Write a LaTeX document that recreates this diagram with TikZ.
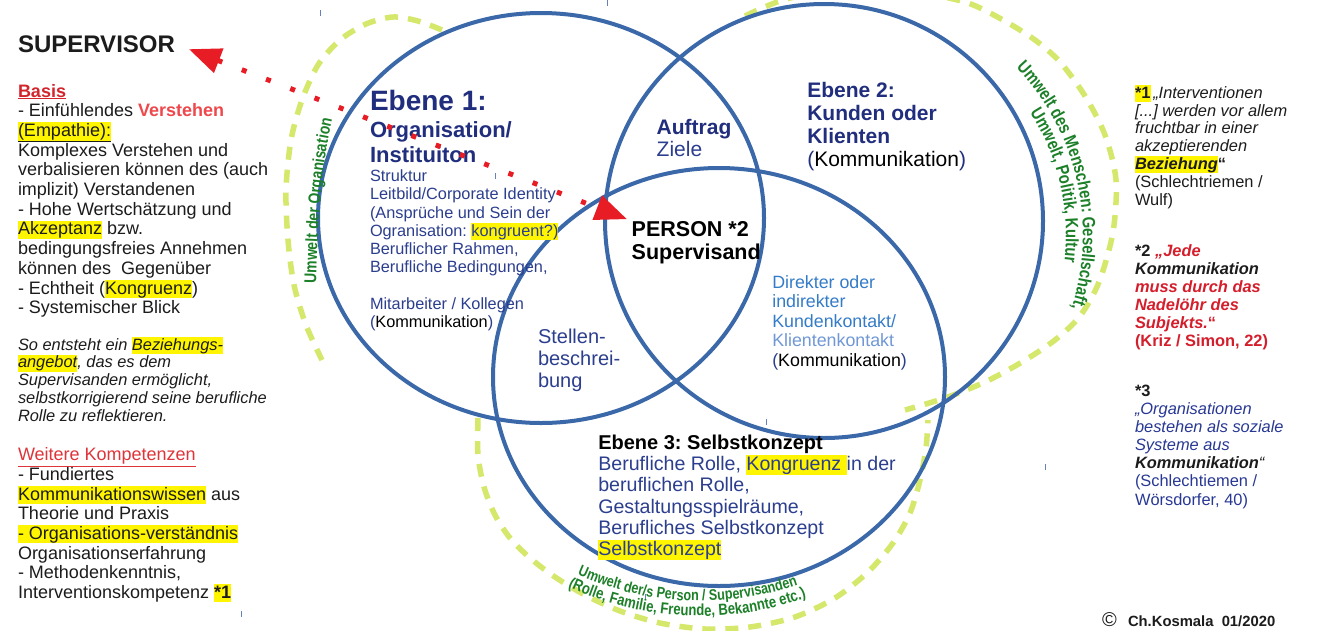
\documentclass[tikz,border=0pt]{standalone}
\usepackage{fontspec}
\setmainfont{Liberation Sans}
\newfontfamily\narrowsans[FakeStretch=0.82]{Liberation Sans}
\frenchspacing
\usetikzlibrary{arrows.meta,decorations.text}

\definecolor{bodytext}{RGB}{28,28,28}
\definecolor{basisred}{RGB}{210,38,44}
\definecolor{verred}{RGB}{238,72,76}
\definecolor{kompred}{RGB}{222,52,58}
\definecolor{navyB}{RGB}{33,46,125}
\definecolor{navyR}{RGB}{44,62,142}
\definecolor{dblue}{RGB}{52,124,200}
\definecolor{lblue}{RGB}{112,152,214}
\definecolor{qred}{RGB}{212,30,44}
\definecolor{fblue}{RGB}{40,56,148}
\definecolor{envgreen}{RGB}{28,128,40}
\definecolor{dashgreen}{RGB}{214,232,108}
\definecolor{vennblue}{RGB}{58,104,168}
\definecolor{arrred}{RGB}{232,28,36}
\definecolor{hly}{RGB}{255,245,0}
\definecolor{tickblue}{RGB}{100,130,185}

% yellow text marker
\newcommand{\hlt}[1]{{\setlength{\fboxsep}{0pt}\colorbox{hly}{\rule[-0.22em]{0pt}{1.02em}#1}}}
% top-aligned text block: width, font size, line distance, content
\newcommand{\tblock}[4]{\parbox[t]{#1}{\raggedright\fontsize{#2}{#3}\selectfont #4}}

\begin{document}
\begin{tikzpicture}[x=1pt, y=-1pt,
  txt/.style={inner sep=0pt, outer sep=0pt, anchor=base west, text=bodytext},
  venn/.style={draw=vennblue, line width=4pt},
  envdash/.style={draw=dashgreen, line width=5.5pt, dash pattern=on 13pt off 10pt},
  redarrow/.style={draw=arrred, line width=5pt, dash pattern=on 5pt off 21pt,
    {Triangle[length=32pt,width=25pt]}-{Triangle[length=32pt,width=25pt]}},
  tick/.style={draw=tickblue, line width=1pt}
]
\useasboundingbox (0,0) rectangle (1321,630);
\fill[white] (0,0) rectangle (1321,630);

% environments (dashed rings)
\begin{scope}
\clip (0,0) rectangle (1321,630);
\draw[envdash] plot[smooth] coordinates {(442,30) (418,21) (393,17) (366,24) (340,40) (318,65) (302,100) (291,140) (286,190) (288,240) (294,285) (306,325) (322,360)};
\draw[envdash] plot[smooth] coordinates {(745,16) (790,-2) (860,-10) (925,-6) (968,3) (1003,20) (1035,40) (1060,62) (1085,96) (1105,135) (1116,180) (1113,232) (1099,282) (1080,316) (1055,340) (1022,362) (985,382) (945,398) (905,410)};
\draw[envdash] plot[smooth] coordinates {(478,418) (478,455) (484,487) (495,515) (510,538) (530,558) (555,577) (585,595) (620,611) (660,623) (705,629) (750,627) (795,617) (835,598) (868,572) (893,543) (910,513) (920,480) (926,448) (928,420)};
\end{scope}

% the three levels
\draw[venn] (541,218) ellipse [x radius=223pt, y radius=205pt];
\draw[venn] (824,221) ellipse [x radius=219pt, y radius=217pt];
\draw[venn] (719,377) ellipse [x radius=226pt, y radius=209pt];

% small handle marks
\draw[tick] (320,10) -- (320,16);
\draw[tick] (607,0) -- (607,6);
\draw[tick] (495,173) -- (495,179);
\draw[tick] (766,419) -- (766,425);
\draw[tick] (1045,464) -- (1045,470);
\draw[tick] (241,611) -- (241,617);
\draw[tick] (645,594) -- (645,600);

% left column
\node[txt] (sup) at (18,52) {\fontsize{24}{24}\selectfont\bfseries SUPERVISOR};
\node[txt] (basis) at (18,97) {\tblock{290pt}{18}{19.7}{\textcolor{basisred}{\textbf{\underline{Basis}}}\\
 - Einfühlendes \textcolor{verred}{\textbf{Verstehen}}\\
 \hlt{\underline{(Empathie):}}\\
 Komplexes Verstehen und\\
 verbalisieren können des (auch\\
 implizit) Verstandenen\\
 - Hohe Wertschätzung und\\
 \hlt{Akzeptanz} bzw.\\
 bedingungsfreies Annehmen\\
 können des\ \ Gegenüber\\
 - Echtheit (\hlt{Kongruenz})\\
 - Systemischer Blick}};
\node[txt] (angebot) at (18,350) {\tblock{290pt}{16.4}{17.9}{\itshape So entsteht ein \hlt{Beziehungs-}\\
 \hlt{angebot}, das es dem\\
 Supervisanden ermöglicht,\\
 selbstkorrigierend seine berufliche\\
 Rolle zu reflektieren.}};
\node[txt] (weitere) at (18,460.7) {\tblock{290pt}{18}{19.66}{\textcolor{kompred}{\underline{Weitere Kompetenzen}}\\
 - Fundiertes\\
 \hlt{Kommunikationswissen} aus\\
 Theorie und Praxis\\
 \hlt{- Organisations-verständnis}\\
 Organisationserfahrung\\
 - Methodenkenntnis,\\
 Interventionskompetenz \hlt{\textbf{*1}}}};

% right column: footnotes
\node[txt] (fn1) at (1135,98.3) {\tblock{180pt}{16.4}{17.8}{\hlt{\textbf{*1}}\,\textit{„Interventionen}\\
 \textit{[...] werden vor allem}\\
 \textit{fruchtbar in einer}\\
 \textit{akzeptierenden}\\
 \hlt{\textbf{\textit{Beziehung}}}\textbf{“}\\
 (Schlechtriemen /\\
 Wulf)}};
\node[txt] (fn2) at (1135,256) {\tblock{180pt}{16.4}{18.1}{\textbf{*2} \textcolor{qred}{\textbf{\textit{„Jede}}}\\
 \textbf{\textit{Kommunikation}}\\
 \textcolor{qred}{\textbf{\textit{muss durch das}}}\\
 \textcolor{qred}{\textbf{\textit{Nadelöhr des}}}\\
 \textcolor{qred}{\textbf{\textit{Subjekts.}“}}\\
 \textcolor{qred}{\textbf{(Kriz / Simon, 22)}}}};
\node[txt] (fn3) at (1135,396.7) {\tblock{180pt}{16.4}{18.05}{\textbf{*3}\\
 \textcolor{fblue}{\textit{„Organisationen}}\\
 \textcolor{fblue}{\textit{bestehen als soziale}}\\
 \textcolor{fblue}{\textit{Systeme aus}}\\
 \textbf{\textit{Kommunikation}}\textit{“}\\
 \textcolor{fblue}{(Schlechtiemen /}\\
 \textcolor{fblue}{Wörsdorfer, 40)}}};
\node[txt] (copy) at (1102,626) {\fontsize{20}{20}\selectfont ©};
\node[txt] (author) at (1128,626) {\fontsize{14.8}{14.8}\selectfont\bfseries Ch.Kosmala\ \ 01/2020};

% level 1
\node[txt, text=navyB] (e1head) at (370,110) {\fontsize{28}{28}\selectfont\bfseries Ebene 1:};
\node[txt, text=navyB] (e1name) at (370,137) {\tblock{240pt}{22}{25}{\bfseries Organisation/\\ Instituiton}};
\node[txt, text=navyR] (e1body) at (370,181.7) {\tblock{240pt}{16.3}{18.2}{Struktur\\
 Leitbild/Corporate Identity\\
 (Ansprüche und Sein der\\
 Ogranisation: \hlt{kongruent?)}\\
 Beruflicher Rahmen,\\
 Berufliche Bedingungen,\\[18.2pt]
 Mitarbeiter / Kollegen\\
 (\textcolor{black}{Kommunikation})}};

% overlap 1/2
\node[txt, text=navyB] (auftrag) at (656.7,134) {\tblock{100pt}{21}{22.7}{\textbf{Auftrag}\\ \textcolor{navyR}{Ziele}}};

% level 2
\node[txt, text=navyB] (e2) at (807.3,97) {\tblock{220pt}{21}{23}{\bfseries Ebene 2:\\ Kunden oder\\ Klienten\\ \mdseries(\textcolor{black}{Kommunikation})}};

% centre
\node[txt, text=black] (person) at (631.7,236) {\tblock{150pt}{21.5}{23.3}{\bfseries PERSON *2\\ Supervisand}};

% overlap 2/3
\node[txt, text=dblue] (kontakt) at (772.3,288.3) {\tblock{180pt}{17.8}{19.5}{Direkter oder\\
 indirekter\\
 Kundenkontakt/\\
 \textcolor{lblue}{Klientenkontakt}\\
 \textcolor{navyR}{(}\textcolor{black}{Kommunikation}\textcolor{navyR}{)}}};

% overlap 1/3
\node[txt, text=navyR] (stellen) at (538,343) {\tblock{100pt}{20}{22}{Stellen-\\ beschrei-\\ bung}};

% level 3
\node[txt, text=black] (e3head) at (598.3,449) {\fontsize{20}{20}\selectfont\bfseries Ebene 3: Selbstkonzept};
\node[txt, text=navyR] (e3body) at (598.3,470.7) {\tblock{330pt}{19.6}{21.25}{Berufliche Rolle, \hlt{Kongruenz\ }in der\\
 beruflichen Rolle,\\
 Gestaltungsspielräume,\\
 Berufliches Selbstkonzept\\
 \hlt{Selbstkonzept}}};

% curved environment labels
\path[decorate, decoration={text along path, text align=center,
  text={|\narrowsans\fontsize{17}{17}\selectfont\bfseries\color{envgreen}|Umwelt der Organisation}}]
  (316,295) .. controls (317,240) and (319,170) .. (335,108);
\path[decorate, decoration={text along path, text align=center,
  text={|\narrowsans\fontsize{18}{18}\selectfont\bfseries\color{envgreen}|Umwelt des Menschen: Gesellschaft,}}]
  plot[domain=0:1, samples=60] ({840+243*cos(-45+64*\x)}, {235+243*sin(-45+64*\x)});
\path[decorate, decoration={text along path, text align=center,
  text={|\narrowsans\fontsize{18}{18}\selectfont\bfseries\color{envgreen}|Umwelt, Politik, Kultur}}]
  plot[domain=0:1, samples=60] ({840+226*cos(-45+64*\x)}, {235+226*sin(-45+64*\x)});
\path[decorate, decoration={text along path, text align=center,
  text={|\narrowsans\fontsize{15.4}{15.4}\selectfont\bfseries\color{envgreen}|Umwelt der/s Person / Supervisanden}}]
  plot[domain=0:1, samples=60] ({700+301*cos(117-49*\x)}, {300+301*sin(117-49*\x)});
\path[decorate, decoration={text along path, text align=center,
  text={|\narrowsans\fontsize{16}{16}\selectfont\bfseries\color{envgreen}|(Rolle, Familie, Freunde, Bekannte etc.)}}]
  plot[domain=0:1, samples=60] ({700+316*cos(117-49*\x)}, {300+316*sin(117-49*\x)});

% supervisor <-> supervisee
\draw[redarrow, shorten <=15pt, shorten >=5pt] (sup.east) -- (person.north west);
\end{tikzpicture}
\end{document}
